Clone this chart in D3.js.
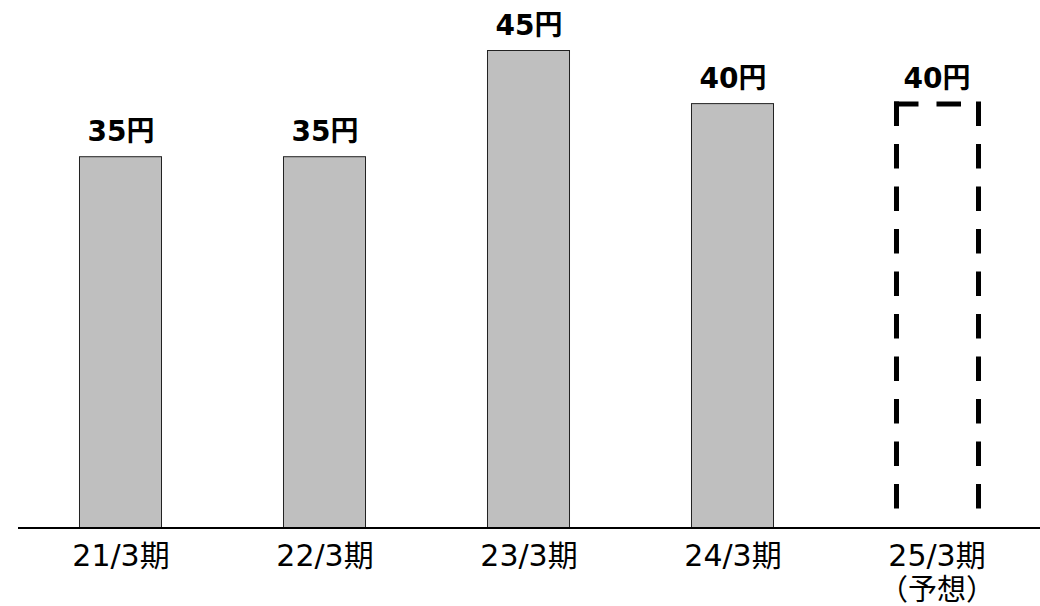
<!DOCTYPE html>
<html><head><meta charset="utf-8">
<script src="https://cdn.jsdelivr.net/npm/d3@7"></script>
<style>
html,body{margin:0;padding:0;background:#fff;}
svg{display:block;}
</style></head>
<body>
<svg id="chart" width="1040" height="606"></svg>
<script>
const categories = ["21/3期", "22/3期", "23/3期", "24/3期", "25/3期"];
const subLabels = ["", "", "", "", "（予想）"];
const values = [35, 35, 45, 40, 40];
const valueLabels = ["35円", "35円", "45円", "40円", "40円"];
const forecast = [false, false, false, false, true];

const W = 1040, H = 606;
const baseY = 528;
const svg = d3.select("#chart");

const x = d3.scaleBand().domain(categories).range([18, 1038]).paddingInner(0.598).paddingOuter(0.299);
const y = d3.scaleLinear().domain([0, 45]).range([baseY, 50]);

const fontFam = "'DejaVu Sans', 'Noto Sans CJK JP', sans-serif";
const data = categories.map((c, i) => ({c, v: values[i], lab: valueLabels[i], f: forecast[i], sub: subLabels[i]}));

// solid bars
svg.selectAll("rect.bar").data(data.filter(d => !d.f)).join("rect")
  .attr("class", "bar")
  .attr("x", d => x(d.c) + 0.5)
  .attr("y", d => y(d.v) + 0.5)
  .attr("width", x.bandwidth())
  .attr("height", d => baseY - y(d.v))
  .attr("fill", "#bfbfbf")
  .attr("stroke", "#222")
  .attr("stroke-width", 1);

// forecast dashed outline
data.filter(d => d.f).forEach(d => {
  const x0 = x(d.c) + 1.5, x1 = x(d.c) + x.bandwidth() + 1.5, yt = y(d.v) + 1;
  const segs = [[x0, yt, x0, baseY], [x0, yt, x1, yt], [x1, yt, x1, baseY]];
  svg.selectAll(null).data(segs).join("line")
    .attr("x1", s => s[0]).attr("y1", s => s[1])
    .attr("x2", s => s[2]).attr("y2", s => s[3])
    .attr("stroke", "#000")
    .attr("stroke-width", 5)
    .attr("stroke-linecap", "square")
    .attr("stroke-dasharray", "19.5,23");
});

// axis line
const axis = d3.axisBottom(x).tickSize(0).tickFormat("");
const gAxis = svg.append("g").attr("transform", `translate(0,${baseY})`).call(axis);
gAxis.select(".domain").remove();
svg.append("line").attr("x1", 18).attr("x2", W).attr("y1", baseY).attr("y2", baseY)
  .attr("stroke", "#000").attr("stroke-width", 2);

// category labels
svg.selectAll("text.cat").data(data).join("text")
  .attr("class", "cat")
  .attr("x", d => x(d.c) + x.bandwidth() / 2 + 1)
  .attr("y", 566)
  .attr("text-anchor", "middle")
  .attr("font-family", fontFam)
  .attr("font-size", 30)
  .attr("fill", "#000")
  .text(d => d.c);

svg.selectAll("text.sub").data(data.filter(d => d.sub)).join("text")
  .attr("class", "sub")
  .attr("x", d => x(d.c) + x.bandwidth() / 2 + 1)
  .attr("y", 600)
  .attr("text-anchor", "middle")
  .attr("font-family", fontFam)
  .attr("font-size", 29)
  .attr("fill", "#000")
  .text(d => d.sub);

// value labels
svg.selectAll("text.val").data(data).join("text")
  .attr("class", "val")
  .attr("x", d => x(d.c) + x.bandwidth() / 2 + 1)
  .attr("y", d => y(d.v) - 15)
  .attr("text-anchor", "middle")
  .attr("font-family", fontFam)
  .attr("font-weight", "bold")
  .attr("font-size", 28)
  .attr("fill", "#000")
  .text(d => d.lab);
</script>
</body></html>
